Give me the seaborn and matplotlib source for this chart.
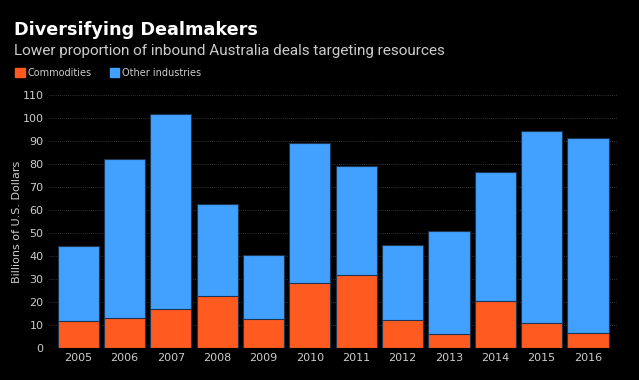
import pandas as pd
import seaborn as sns
import matplotlib.pyplot as plt
from matplotlib.patches import Patch

# Data (billions of USD)
years = ['2005', '2006', '2007', '2008', '2009', '2010',
         '2011', '2012', '2013', '2014', '2015', '2016']
commodities = [11.5, 12.8, 16.7, 22.4, 12.6, 28.1, 31.7, 12.2, 5.8, 20.2, 10.6, 6.3]
totals = [44.4, 82.4, 101.8, 62.6, 40.5, 89.3, 79.0, 44.9, 51.0, 76.6, 94.4, 91.4]

df = pd.DataFrame({'year': years, 'commodities': commodities, 'total': totals})

orange = '#ff5a1f'
blue = '#42a0ff'
bg = '#000000'
txt = '#cccccc'

sns.set_style('dark')
plt.rcParams['font.family'] = ['DejaVu Sans']

fig = plt.figure(figsize=(6.39, 3.8), dpi=100, facecolor=bg)
ax = fig.add_axes([0.0767, 0.085, 0.889, 0.664], facecolor=bg)

# stacked bars: total (other industries on top) then commodities
sns.barplot(data=df, x='year', y='total', color=blue, saturation=1, width=0.89,
            edgecolor='#1d3550', linewidth=0.8, ax=ax)
sns.barplot(data=df, x='year', y='commodities', color=orange, saturation=1, width=0.89,
            edgecolor='#1d3550', linewidth=0.8, ax=ax)

ax.set_ylim(0, 110)
ax.set_xlim(-0.63, 11.63)
ax.set_yticks(range(0, 111, 10))
ax.yaxis.grid(True, color='#444444', linestyle=(0, (1, 1.5)), linewidth=0.6)
ax.xaxis.grid(False)
ax.set_axisbelow(True)
for s in ax.spines.values():
    s.set_visible(False)
ax.tick_params(axis='both', colors=txt, labelsize=8, length=0, pad=4)
ax.set_xlabel('')
ax.set_ylabel('Billions of U.S. Dollars', color=txt, fontsize=8, labelpad=0.5)

fig.text(0.022, 0.908, 'Diversifying Dealmakers', color='white', fontsize=12.7,
         fontweight='bold', va='baseline')
fig.text(0.022, 0.855, 'Lower proportion of inbound Australia deals targeting resources',
         color=txt, fontsize=11, va='baseline', family='Roboto')

handles = [Patch(color=orange, label='Commodities'),
           Patch(color=blue, label='Other industries')]
fig.legend(handles=handles, loc='center left', bbox_to_anchor=(0.0235, 0.808),
           ncol=2, frameon=False, fontsize=7, labelcolor=txt, borderpad=0, borderaxespad=0,
           handlelength=1.0, handleheight=0.95, handletextpad=0.3, columnspacing=1.85)

plt.savefig('out.png', dpi=100, facecolor=bg)
plt.close()
